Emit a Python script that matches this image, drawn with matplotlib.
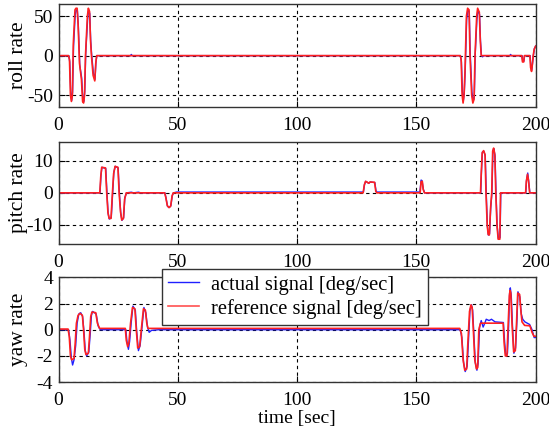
import numpy as np
import matplotlib
matplotlib.use('Agg')
import matplotlib.pyplot as plt

plt.rcParams['font.family'] = ['Liberation Serif', 'DejaVu Serif']
plt.rcParams['font.size'] = 14
plt.rcParams['axes.unicode_minus'] = False

# (time [sec], value [deg/sec]) breakpoints
roll_ref = [(0, 0), (4.2, 0), (4.6, -5), (5.0, -50), (5.4, -58), (5.8, -50), (6.2, 15), (6.9, 58),
            (7.3, 60), (7.8, 60), (8.2, 40), (8.8, -10), (9.6, -30), (10.1, -58), (10.5, -60),
            (10.9, -50), (11.3, 0), (12.1, 50), (12.5, 60), (13.0, 56), (13.4, 20), (13.8, 0),
            (14.5, -25), (15.2, -32), (15.6, -10), (16.0, 0), (168.4, 0), (168.8, -5), (169.2, -50),
            (169.6, -60), (170.0, -50), (170.4, -20), (171.0, 50), (171.5, 60), (172.1, 58),
            (172.5, 0), (173.2, -50), (173.7, -60), (174.2, -55), (174.6, 0), (175.3, 50),
            (175.7, 60), (176.4, 55), (176.8, 20), (177.2, 0), (194.2, 0), (194.5, -8), (195.0, -8),
            (195.3, 0), (197.6, 0), (197.9, -15), (198.3, -20), (198.6, -12), (199.0, 0),
            (199.4, 8), (200, 12)]
roll_act = [(0, 0), (4.3, 0), (4.7, -8), (5.1, -45), (5.5, -57), (5.9, -46), (6.3, 12), (7.0, 52),
            (7.4, 58), (7.9, 57), (8.3, 38), (8.9, -12), (9.7, -28), (10.2, -55), (10.6, -58),
            (11.0, -45), (11.4, 3), (12.2, 46), (12.6, 58), (13.1, 53), (13.5, 18), (13.9, 1),
            (14.6, -22), (15.3, -30), (15.7, -7), (16.1, 0), (30.2, 0), (30.5, 1.5), (30.9, 0),
            (168.5, 0), (168.9, -8), (169.3, -45), (169.7, -57), (170.1, -47), (170.5, -18),
            (171.1, 46), (171.6, 58), (172.2, 55), (172.6, 2), (173.3, -46), (173.8, -58),
            (174.3, -52), (174.7, 3), (175.4, 46), (175.8, 58), (176.5, 52), (176.9, 18),
            (177.3, 0), (177.8, -1.5), (178.2, 0), (189.2, 0), (189.5, 1.5), (189.9, 0),
            (194.3, 0), (194.6, -7), (195.1, -7), (195.4, 0), (197.7, 0), (198.0, -13),
            (198.4, -18), (198.7, -10), (199.1, 1), (199.5, 9), (200, 12)]

pitch_ref = [(0, 0), (17.3, 0), (17.7, 5), (18.1, 8), (19.7, 7.8), (20.2, 0), (20.7, -6), (21.2, -8),
             (22.0, -8), (22.6, 0), (23.1, 6), (23.7, 8.3), (24.9, 8), (25.4, 0), (26.0, -6),
             (26.5, -8.5), (27.2, -8), (27.7, -2), (28.4, 0), (44.5, 0), (45.0, -1.5), (45.6, -4),
             (46.3, -4.6), (47.0, -4.2), (47.6, -1), (48.1, 0), (127.7, 0), (128.2, 2.5),
             (128.7, 3.6), (129.5, 3.3), (130.0, 3.0), (130.6, 3.4), (132.5, 3.3), (133.0, 0.5),
             (133.4, 0), (151.6, 0), (152.0, 3.5), (152.5, 3.6), (152.9, 1.0), (153.4, 0),
             (176.9, 0), (177.2, 6), (177.6, 12.5), (178.2, 13.2), (178.8, 12), (179.2, 0),
             (179.7, -10), (180.1, -13), (180.6, -13.2), (181.1, -5), (181.6, 0), (182.0, 13),
             (182.4, 14), (182.9, 12), (183.3, 0), (183.8, -10), (184.3, -14.5), (185.0, -14.5),
             (185.3, 0), (195.8, 0), (196.1, 3.5), (196.6, 5.8), (197.0, 4), (197.5, 0), (200, 0)]
pitch_act = [(0, 0), (17.4, 0), (17.8, 5.5), (18.2, 8), (19.8, 7.6), (20.3, 0), (20.8, -6.5),
             (21.3, -8.2), (22.1, -7.8), (22.7, 0), (23.2, 6.5), (23.8, 8.3), (25.0, 7.8),
             (25.5, 0), (26.1, -6.5), (26.6, -8.6), (27.3, -7.8), (27.8, -1.5), (28.5, 0),
             (30.5, 0.2), (31.5, 0), (33.5, 0.2), (34.5, 0), (44.6, 0), (45.1, -1.8), (45.7, -4.2),
             (46.4, -4.6), (47.1, -4), (47.7, -0.8), (48.2, 0), (49.5, 0.25), (127.8, 0.25),
             (128.3, 2.7), (128.8, 3.6), (129.6, 3.2), (130.1, 3.0), (130.7, 3.4), (132.6, 3.2),
             (133.1, 0.6), (133.5, 0.25), (151.5, 0.25), (152.0, 4.0), (152.4, 3.8), (152.9, 1.2),
             (153.5, 0), (177.0, 0), (177.3, 6.5), (177.7, 12.8), (178.3, 13.0), (178.9, 11.5),
             (179.3, 0), (179.8, -10.5), (180.2, -13.2), (180.7, -12.8), (181.2, -4.5), (181.7, 0),
             (182.1, 13.2), (182.5, 13.8), (183.0, 11.5), (183.4, 0), (183.9, -10.5),
             (184.4, -14.3), (185.1, -14), (185.4, 0), (195.9, 0), (196.2, 4), (196.7, 6.2),
             (197.1, 3.5), (197.6, 0), (200, 0)]

yaw_ref = [(0, 0.05), (4.0, 0.05), (4.5, -0.5), (5.0, -2.0), (5.5, -2.3), (6.5, -2.2), (7.0, -1),
           (7.5, 0.5), (8.2, 1.1), (9.0, 1.25), (10.0, 1.1), (10.5, 0), (11.0, -1.5), (11.5, -1.9),
           (12.5, -1.8), (13.0, -0.5), (13.5, 1.0), (14.0, 1.35), (15.6, 1.3), (16.3, 0.5),
           (17.2, 0.1), (28.0, 0.1), (28.4, -0.8), (29.0, -1.3), (29.5, -1.0), (30.2, 0.5),
           (31.0, 1.7), (32.0, 1.6), (32.6, 0), (33.2, -1.4), (34.0, -1.3), (34.7, 0), (35.6, 1.6),
           (36.4, 1.5), (37.0, 0.5), (37.5, 0.1), (168.2, 0.1), (168.9, -0.3), (169.6, -2.3),
           (170.3, -3.1), (171.1, -3.0), (171.6, -1), (172.3, 1.4), (172.9, 1.9), (173.4, 1.7),
           (173.9, 0), (174.5, -2.3), (175.2, -3.0), (175.7, -2.9), (176.2, 0), (176.9, 0.5),
           (186.4, 0.5), (186.8, -1), (187.3, -2.0), (188.0, -2.0), (188.4, 0), (189.0, 2.6),
           (189.3, 3.0), (189.6, 2.8), (190.1, 0.5), (190.8, -1.7), (191.5, -1.6), (192.0, 0.5),
           (192.5, 2.8), (193.3, 2.7), (193.8, 1.5), (194.3, 0.6), (195.4, 0.33), (197.6, 0.3),
           (198.5, -0.2), (199.3, -0.5), (200, -0.5)]
yaw_act = [(0, 0), (4.2, 0), (4.8, -0.8), (5.4, -2.2), (5.9, -2.7), (6.5, -2.3), (7.2, -1.2),
           (7.8, 0.5), (8.5, 1.2), (9.3, 1.3), (10.1, 1.0), (10.7, -0.2), (11.2, -1.6),
           (11.8, -2.0), (12.7, -1.7), (13.3, -0.3), (13.8, 1.1), (14.3, 1.4), (15.8, 1.2),
           (16.6, 0.3), (17.5, 0), (28.2, 0), (28.7, -0.9), (29.3, -1.5), (29.8, -0.9),
           (30.5, 0.6), (31.2, 1.8), (32.2, 1.5), (32.8, -0.2), (33.5, -1.6), (34.2, -1.2),
           (35.0, 0.2), (35.8, 1.7), (36.6, 1.3), (37.3, 0.2), (38.0, -0.2), (39.0, -0.05),
           (42.0, 0), (168.4, 0), (169.1, -0.6), (169.8, -2.5), (170.5, -3.2), (171.3, -2.8),
           (171.9, -0.7), (172.5, 1.5), (173.1, 1.9), (173.6, 1.5), (174.1, -0.3), (174.7, -2.5),
           (175.4, -3.1), (175.9, -2.6), (176.5, 0.2), (177.2, 0.7), (178.0, 0.2), (178.7, 0.5),
           (179.3, 0.8), (180.5, 0.7), (181.5, 0.8), (183.0, 0.6), (186.5, 0.55), (187.0, -0.9),
           (187.5, -2.0), (188.2, -1.8), (188.7, 0.3), (189.1, 2.8), (189.4, 3.2), (189.8, 2.6),
           (190.3, 0.3), (190.9, -1.8), (191.6, -1.4), (192.2, 0.8), (192.6, 2.9), (193.4, 2.5),
           (194.0, 1.2), (194.6, 0.8), (195.5, 0.6), (197.5, 0.4), (198.5, 0.0), (199.4, -0.6),
           (200, -0.6)]

panels = [
    ('roll rate', roll_act, roll_ref, (-65, 65), [-50, 0, 50]),
    ('pitch rate', pitch_act, pitch_ref, (-16, 16), [-10, 0, 10]),
    ('yaw rate', yaw_act, yaw_ref, (-4, 4), [-4, -2, 0, 2, 4]),
]
# axes boxes in figure fractions [left, bottom, width, height]
boxes = [[0.1066, 0.7535, 0.869, 0.2366],
         [0.1066, 0.4378, 0.869, 0.2357],
         [0.1066, 0.1198, 0.869, 0.2410]]

fig = plt.figure(figsize=(5.49, 4.34), dpi=100)
axes = []
for (name, act, ref, ylim, yt), box in zip(panels, boxes):
    ax = fig.add_axes(box)
    a = np.array(act)
    r = np.array(ref)
    ax.plot(a[:, 0], a[:, 1], color='#2020ff', lw=1.0, label='actual signal [deg/sec]')
    ax.plot(r[:, 0], r[:, 1], color='#ff2020', lw=1.2, label='reference signal [deg/sec]')
    ax.set_xlim(0, 200)
    ax.set_ylim(*ylim)
    ax.set_xticks([0, 50, 100, 150, 200])
    ax.set_yticks(yt)
    ax.grid(True, color='black', linestyle=(0, (3, 3)), lw=0.8)
    ax.tick_params(direction='in', length=4)
    ax.tick_params(axis='x', pad=7)
    ax.tick_params(axis='y', pad=4)
    for s in ax.spines.values():
        s.set_color('#333333')
        s.set_linewidth(1.0)
    ax.set_ylabel(name, fontsize=15.5)
    ax.yaxis.set_label_coords(-0.064, 0.5)
    axes.append(ax)

axes[2].set_xlabel('time [sec]', labelpad=1)

h, l = axes[2].get_legend_handles_labels()
h[1].set_color('#ff5050')
leg = axes[2].legend(h, l, loc='upper left', bbox_to_anchor=(0.295, 0.380),
                     bbox_transform=fig.transFigure, borderaxespad=0, fancybox=False,
                     edgecolor='#333333', framealpha=1, fontsize=14.8, handlelength=1.5,
                     borderpad=0.3, labelspacing=0.2, handletextpad=0.6)
leg.get_frame().set_linewidth(1.0)
h[1].set_color('#ff2020')

plt.savefig('out.png', dpi=100)
